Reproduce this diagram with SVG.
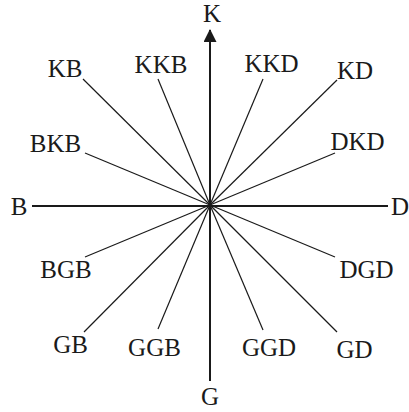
<svg xmlns="http://www.w3.org/2000/svg" width="409" height="412" viewBox="0 0 409 412">
  <style>
    .lbl { font-family: "Liberation Serif", "Times New Roman", serif; font-size: 25px; fill: #1a1a1a; text-anchor: middle; }
    .ray { stroke: #1a1a1a; stroke-width: 1.2; fill: none; }
    .axis { stroke: #1a1a1a; stroke-width: 2; fill: none; }
  </style>
  <defs>
    <marker id="arrow" markerUnits="userSpaceOnUse" markerWidth="14" markerHeight="14" refX="12" refY="6.5" orient="auto">
      <path d="M0,0 L13,6.5 L0,13 Z" fill="#1a1a1a"/>
    </marker>
  </defs>
  <rect width="409" height="412" fill="#ffffff"/>

  <!-- connectors: axes and rays from the centre (210,205) -->
  <g id="connectors">
    <line class="axis" x1="210" y1="381" x2="210" y2="30" marker-end="url(#arrow)"/>
    <line class="axis" x1="32" y1="206" x2="388" y2="206"/>
    <line class="ray" x1="210" y1="205" x2="83" y2="79"/>
    <line class="ray" x1="210" y1="205" x2="158" y2="79"/>
    <line class="ray" x1="210" y1="205" x2="263" y2="79"/>
    <line class="ray" x1="210" y1="205" x2="337" y2="80"/>
    <line class="ray" x1="210" y1="205" x2="85" y2="153"/>
    <line class="ray" x1="210" y1="205" x2="335" y2="153"/>
    <line class="ray" x1="210" y1="205" x2="85" y2="257"/>
    <line class="ray" x1="210" y1="205" x2="335" y2="257"/>
    <line class="ray" x1="210" y1="205" x2="84" y2="332"/>
    <line class="ray" x1="210" y1="205" x2="158" y2="329"/>
    <line class="ray" x1="210" y1="205" x2="263" y2="330"/>
    <line class="ray" x1="210" y1="205" x2="337" y2="332"/>
  </g>

  <g id="K"><text class="lbl" x="212" y="22">K</text></g>
  <g id="KB"><text class="lbl" x="65" y="77">KB</text></g>
  <g id="KKB"><text class="lbl" x="161" y="73">KKB</text></g>
  <g id="KKD"><text class="lbl" x="271.5" y="72">KKD</text></g>
  <g id="KD"><text class="lbl" x="355" y="79">KD</text></g>
  <g id="BKB"><text class="lbl" x="55.5" y="152">BKB</text></g>
  <g id="DKD"><text class="lbl" x="357.5" y="150">DKD</text></g>
  <g id="B"><text class="lbl" x="19" y="215">B</text></g>
  <g id="D"><text class="lbl" x="400" y="215">D</text></g>
  <g id="BGB"><text class="lbl" x="66" y="278">BGB</text></g>
  <g id="DGD"><text class="lbl" x="366.5" y="278">DGD</text></g>
  <g id="GB"><text class="lbl" x="70.5" y="353">GB</text></g>
  <g id="GGB"><text class="lbl" x="154.5" y="356">GGB</text></g>
  <g id="GGD"><text class="lbl" x="269" y="356">GGD</text></g>
  <g id="GD"><text class="lbl" x="354.5" y="358">GD</text></g>
  <g id="G"><text class="lbl" x="210" y="405">G</text></g>
</svg>
